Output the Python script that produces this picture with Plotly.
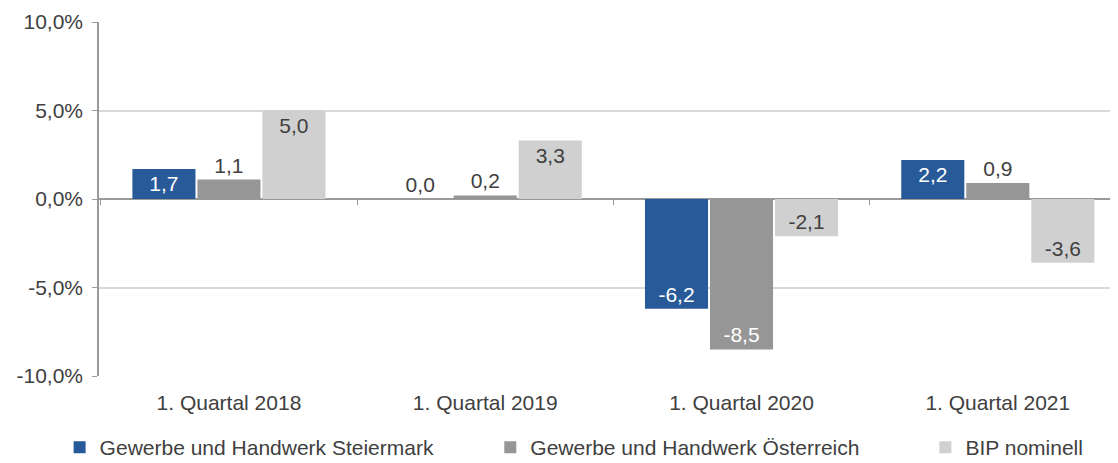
import plotly.graph_objects as go

categories = ["1. Quartal 2018", "1. Quartal 2019", "1. Quartal 2020", "1. Quartal 2021"]
steiermark = [1.7, 0.0, -6.2, 2.2]
oesterreich = [1.1, 0.2, -8.5, 0.9]
bip = [5.0, 3.3, -2.1, -3.6]

y_ticks = [-10, -5, 0, 5, 10]
y_ticktext = ["-10,0%", "-5,0%", "0,0%", "5,0%", "10,0%"]

FONT = "Liberation Sans, Arial, sans-serif"
DARK = "#404040"
FS = 21

# page body has an 8px margin, so the figure is a bit smaller than the window
W, H = 1110, 455
X_RANGE = [-0.507, 3.469]  # plot runs off the right edge like in the original

series = [
    ("Gewerbe und Handwerk Steiermark", steiermark, "#285A9A", "white",
     ["inside", "outside", "inside", "inside"], "legend"),
    ("Gewerbe und Handwerk Österreich", oesterreich, "#969696", "white",
     ["outside", "outside", "inside", "outside"], "legend2"),
    ("BIP nominell", bip, "#D0D0D0", DARK,
     ["inside", "inside", "inside", "inside"], "legend3"),
]

fig = go.Figure()
for name, vals, color, txtcol, pos, leg in series:
    fig.add_trace(go.Bar(
        x=categories, y=vals, name=name, legend=leg,
        marker=dict(color=color, line=dict(width=0)),
        texttemplate="%{y:.1f}",
        textposition=pos,
        insidetextanchor="end",
        insidetextfont=dict(color=txtcol, size=FS, family=FONT),
        outsidetextfont=dict(color=DARK, size=FS, family=FONT),
        textangle=0,
        cliponaxis=False,
    ))

# dummy trace so the tick axis at zero gets drawn
fig.add_trace(go.Scatter(x=categories, y=[0] * 4, xaxis="x2", mode="none",
                         showlegend=False, hoverinfo="skip"))

leg_style = dict(orientation="h", xref="container", yref="container",
                 y=0.079, xanchor="left", yanchor="top", itemwidth=30,
                 font=dict(size=FS, family=FONT, color=DARK))

fig.update_layout(
    width=W, height=H,
    paper_bgcolor="white", plot_bgcolor="white",
    separators=",.",
    font=dict(family=FONT, size=FS, color=DARK),
    barmode="group", bargap=0.239, bargroupgap=0.03,
    margin=dict(l=91, r=0, t=14, b=87, autoexpand=False),
    showlegend=True,
    legend=dict(x=0.0465, **leg_style),
    legend2=dict(x=0.4345, **leg_style),
    legend3=dict(x=0.8265, **leg_style),
    xaxis=dict(range=X_RANGE, showline=False, ticks="", showgrid=False,
               ticklabelstandoff=12, tickfont=dict(size=FS)),
    xaxis2=dict(overlaying="x", anchor="free", position=0.5, matches="x",
                showticklabels=False, showline=False, showgrid=False,
                ticks="outside", tickson="boundaries", ticklen=5, tickcolor="#999999"),
    yaxis=dict(range=[-10, 10], tickvals=y_ticks, ticktext=y_ticktext,
               showgrid=True, gridcolor="#D9D9D9", gridwidth=1.5,
               showline=True, linecolor="#999999", linewidth=1.5,
               ticks="outside", ticklen=5, tickcolor="#999999", ticklabelstandoff=5,
               zeroline=True, zerolinecolor="#999999", zerolinewidth=1.5,
               tickfont=dict(size=FS)),
)

fig.write_html("out.html")
